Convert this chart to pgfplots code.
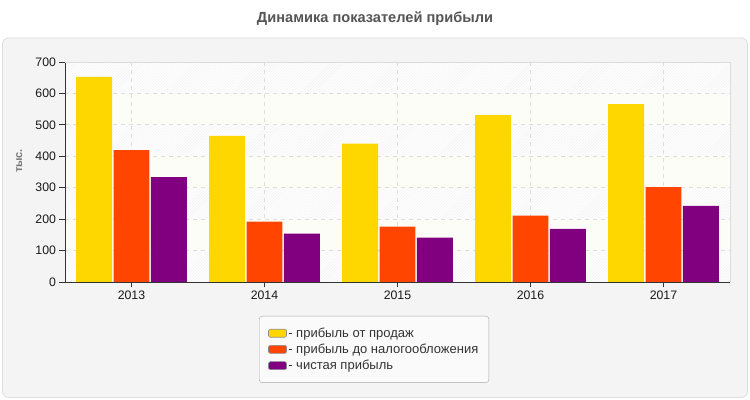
\documentclass[border=0pt]{standalone}
\usepackage{pgfplots}
\pgfplotsset{compat=1.18}
\usepackage{fontspec}
\setmainfont{Liberation Sans}
\usetikzlibrary{patterns}
\definecolor{cgold}{HTML}{FFD700}
\definecolor{cred}{HTML}{FF4500}
\definecolor{cpurple}{HTML}{800080}
\definecolor{panel}{HTML}{F4F4F4}
\definecolor{panelborder}{HTML}{DEDEDE}
\definecolor{titlegray}{HTML}{555555}
\definecolor{labgray}{HTML}{777777}
\definecolor{gridgray}{HTML}{DDDDDD}
\definecolor{bandyel}{HTML}{FDFDF7}
\definecolor{axisdark}{HTML}{333333}
\definecolor{legfill}{HTML}{FAFAFA}
\definecolor{legborder}{HTML}{A8A8A8}

\pgfplotstableread{
x sales pretax net
0 653 420 334
1 465 192 154
2 440 176 141
3 531 211 169
4 566 302 242
}\profit

\pgfplotsset{
  myleg/.style={legend image code/.code={%
    \draw[##1, draw=black!45, line width=0.6bp, rounded corners=1.5bp] (0bp,-4bp) rectangle (18bp,4bp);}},
}

\begin{document}
\begin{tikzpicture}
\useasboundingbox (0bp,0bp) rectangle (750bp,400bp);
\fill[white] (0bp,0bp) rectangle (750bp,400bp);
\filldraw[fill=panel, draw=panelborder, line width=0.8bp, rounded corners=6bp] (2.5bp,2.5bp) rectangle (747.5bp,362bp);
\node[font=\bfseries\fontsize{14.6bp}{17bp}\selectfont, text=titlegray] at (375bp,381bp) {Динамика показателей прибыли};
% background bands of the plot area (65..730 x 118..338)
\fill[white] (65bp,118bp) rectangle (730bp,338bp);
\foreach \i in {0,2,4,6} {
  \fill[pattern=north east lines, pattern color=black!6] (65bp,{(118+\i*220/7)*1bp}) rectangle (730bp,{(118+(\i+1)*220/7)*1bp});
}
\foreach \i in {1,3,5} {
  \fill[bandyel] (65bp,{(118+\i*220/7)*1bp}) rectangle (730bp,{(118+(\i+1)*220/7)*1bp});
}
\begin{axis}[
  at={(65bp,118bp)}, anchor=south west,
  scale only axis, width=665bp, height=220bp,
  xmin=-0.5, xmax=4.5, ymin=0, ymax=700,
  xtick={0,1,2,3,4}, xticklabels={2013,2014,2015,2016,2017},
  ytick={0,100,...,700},
  axis x line*=bottom, axis y line*=left,
  axis line style={draw=axisdark, line width=0.8bp, -},
  tick align=outside,
  major tick length=5.5bp,
  tick style={draw=axisdark, line width=0.8bp},
  grid=major,
  major grid style={draw=gridgray, line width=0.8bp, dash pattern=on 4bp off 4bp},
  /pgf/number format/assume math mode=true,
  ticklabel style={font=\fontsize{12.3bp}{14bp}\selectfont, text=black!90},
  ylabel={тыс.},
  ylabel style={font=\bfseries\fontsize{11bp}{13bp}\selectfont, text=labgray, at={(axis description cs:-0.069,0.55)}, anchor=center},
  legend style={at={(0.4647,-0.1545)}, anchor=north, draw=legborder, fill=legfill, rounded corners=3bp,
    font=\fontsize{13bp}{15bp}\selectfont, text=black!80, legend cell align=left,
    inner xsep=9bp, inner ysep=10bp, row sep=2.2bp,
    nodes={inner sep=1.5bp, anchor=west}},
  extra description/.code={
    \draw[gridgray, line width=0.8bp] (0,1) -- (1,1) -- (1,0);
  },
]
\addplot[ybar, bar width=0.27, bar shift=-0.281, fill=cgold, draw=none, myleg] table[x=x, y=sales] {\profit};
\addlegendentry{- прибыль от продаж}
\addplot[ybar, bar width=0.27, bar shift=0, fill=cred, draw=none, myleg] table[x=x, y=pretax] {\profit};
\addlegendentry{- прибыль до налогообложения}
\addplot[ybar, bar width=0.27, bar shift=0.281, fill=cpurple, draw=none, myleg] table[x=x, y=net] {\profit};
\addlegendentry{- чистая прибыль}
\end{axis}
\end{tikzpicture}
\end{document}
